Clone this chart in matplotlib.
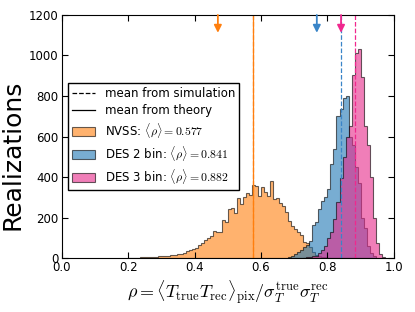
import numpy as np
import matplotlib
matplotlib.use('Agg')
import matplotlib.pyplot as plt
from matplotlib.lines import Line2D

# histogram data (common bins of width 1/110, counts start at bin index *_start)
bin_width = 1.0 / 110
nvss_start = 22
nvss_counts = [1, 1, 2, 2, 3, 3, 4, 4, 5, 6, 8, 10, 9, 12, 14, 15, 18, 22, 25, 33,
               38, 45, 50, 62, 72, 89, 100, 110, 135, 130, 130, 190, 180, 240, 245, 222,
               296, 265, 300, 320, 312, 360, 354, 305, 350, 328, 305, 380, 290, 296,
               271, 255, 225, 185, 160, 145, 130, 112, 80, 74, 52, 30, 16, 10, 5, 3, 1]
des2_start = 75
des2_counts = [5, 10, 20, 30, 40, 55, 65, 85, 165, 180, 240, 280, 300, 340, 465, 540,
               700, 735, 790, 800, 600, 560, 450, 370, 200, 150, 60, 25, 8]
des3_start = 80
des3_counts = [2, 3, 5, 8, 12, 25, 40, 60, 100, 130, 195, 275, 395, 500, 600, 650,
               905, 1010, 1030, 895, 650, 560, 400, 200, 75, 20, 4]

labels = ['NVSS', 'DES 2 bin', 'DES 3 bin']
mean_sim = [0.577, 0.841, 0.882]
mean_theory = [0.577]
arrow_pos = [0.47, 0.768, 0.841]

fill_colors = ['#ff7f0e', '#1f77b4', '#e7298a']
line_colors = ['#ff7f0e', '#3a85c8', '#f0288e']

plt.rcParams['font.family'] = ['DejaVu Sans']
plt.rcParams['mathtext.fontset'] = 'cm'

fig = plt.figure(figsize=(4.15, 3.12), dpi=100)
ax = fig.add_axes([0.149, 0.173, 0.8, 0.779])

# histograms
patches = []
for start, counts, c, lab, m in zip([nvss_start, des2_start, des3_start],
                                     [nvss_counts, des2_counts, des3_counts],
                                     fill_colors, labels, mean_sim):
    edges = (start + np.arange(len(counts) + 1)) * bin_width
    centers = 0.5 * (edges[:-1] + edges[1:])
    n, b, p = ax.hist(centers, bins=edges, weights=counts, histtype='stepfilled',
                      facecolor=c, edgecolor='k', alpha=0.6, lw=0.8)
    patches.append(p[0])

# mean lines
for m, c in zip(mean_sim, line_colors):
    ax.axvline(m, color=c, ls='--', lw=0.9)
for m, c in zip(mean_theory, line_colors):
    ax.axvline(m, color=c, ls='-', lw=0.9)

# arrows at the top
for x, c in zip(arrow_pos, line_colors):
    ax.annotate('', xy=(x, 1112), xytext=(x, 1200),
                arrowprops=dict(arrowstyle='-|>', color=c, lw=1.3,
                                shrinkA=0, shrinkB=0, mutation_scale=11))

ax.set_xlim(0, 1)
ax.set_ylim(0, 1200)
ax.set_xticks(np.arange(0, 1.01, 0.2))
ax.set_yticks(np.arange(0, 1201, 200))
ax.tick_params(direction='in', top=True, right=True, labelsize=8.5, pad=2.5, length=4)
ax.set_xlabel(r'$\rho = \langle T_{\rm true}T_{\rm rec}\rangle_{\rm pix}/\sigma_T^{\rm true}\sigma_T^{\rm rec}$',
              fontsize=13, labelpad=3)
ax.set_ylabel('Realizations', fontsize=18)
ax.yaxis.set_label_coords(-0.111, 0.424)

handles = [Line2D([], [], color='k', ls='--', lw=0.9),
           Line2D([], [], color='k', ls='-', lw=0.9)] + patches
leg_labels = ['mean from simulation', 'mean from theory'] + \
             [lab + r': $\langle\rho\rangle = %.3f$' % m for lab, m in zip(labels, mean_sim)]
leg = ax.legend(handles, leg_labels, loc='center left', fontsize=8.5,
                fancybox=False, framealpha=1, edgecolor='k', labelspacing=0.38,
                borderpad=0.35, handletextpad=0.8)
leg.get_frame().set_linewidth(1.0)

fig.savefig('out.png', dpi=100)
